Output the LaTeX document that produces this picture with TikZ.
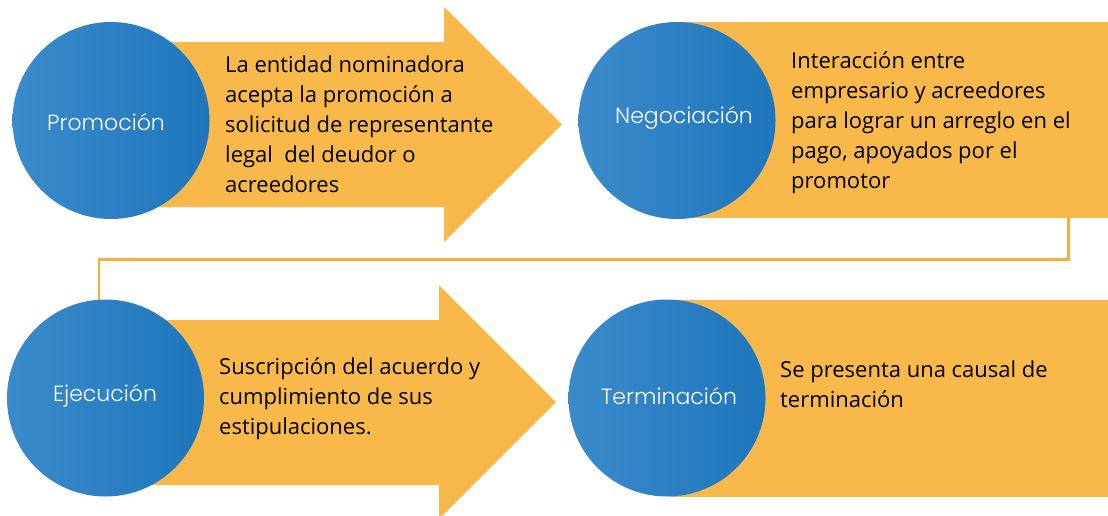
\documentclass[tikz,border=0pt]{standalone}
\usepackage{fontspec}
\setmainfont{Open Sans}
\newfontfamily\labelfont{Poppins Light}
\definecolor{ylw}{HTML}{F8B94A}
\definecolor{lne}{HTML}{F7AD3A}
\definecolor{bluL}{HTML}{3B8BCB}
\definecolor{bluR}{HTML}{1E76BC}
\tikzset{
  stage/.style={circle, minimum size=197pt, inner sep=0pt, left color=bluL, right color=bluR, draw=none},
  stagelabel/.style={text=white, inner sep=0pt, font=\labelfont\fontsize{22}{26}\selectfont},
  bodytext/.style={anchor=west, align=left, inner sep=0pt, text=black, font=\fontsize{22}{30}\selectfont},
  band/.style={fill=ylw, draw=none, inner sep=0pt},
  link/.style={draw=lne, line width=2.5pt}
}
\begin{document}
\begin{tikzpicture}[x=1pt,y=-1pt]
\useasboundingbox (0,0) rectangle (1108,515);
\clip (0,0) rectangle (1108,515);
% yellow arrows and bands
\fill[ylw] (150,42) -- (444,42) -- (444,7) -- (562,124.5) -- (444,242) -- (444,207) -- (150,207) -- cycle;
\fill[ylw] (150,320) -- (439,320) -- (439,285) -- (556,402) -- (439,519) -- (439,485) -- (150,485) -- cycle;
\node[band, minimum width=428pt, minimum height=196pt, anchor=north west] (negband) at (680,22) {};
\node[band, minimum width=438pt, minimum height=197pt, anchor=north west] (terband) at (670,300) {};
% connector
\coordinate (c1) at ([xshift=-40pt]negband.south east);
\coordinate (e1) at (99,300);
\draw[link] (c1) -- ++(0,41) -| (e1);
% stages
\node[stage] (pro) at (111,120.5) {};
\node[stage] (neg) at (677,120.5) {};
\node[stage] (eje) at (105.5,398) {};
\node[stage] (ter) at (667,398) {};
% labels
\node[stagelabel] (lpro) at (106,122) {Promoción};
\node[stagelabel] (lneg) at (684,118) {Negociación};
\node[stagelabel] (leje) at (105,396) {Ejecución};
\node[stagelabel] (lter) at (669,396) {Terminación};
% texts
\node[bodytext] (tpro) at (225,124) {La entidad nominadora\\acepta la promoción a\\solicitud de representante\\legal\ \ del deudor o\\acreedores};
\node[bodytext] (tneg) at (791,122.5) {Interacción entre\\empresario y acreedores\\para lograr un arreglo en el\\pago, apoyados por el\\promotor};
\node[bodytext] (teje) at (219,399) {Suscripción del acuerdo y\\cumplimiento de sus\\estipulaciones.};
\node[bodytext] (tter) at (780,384) {Se presenta una causal de\\terminación};
\end{tikzpicture}
\end{document}
